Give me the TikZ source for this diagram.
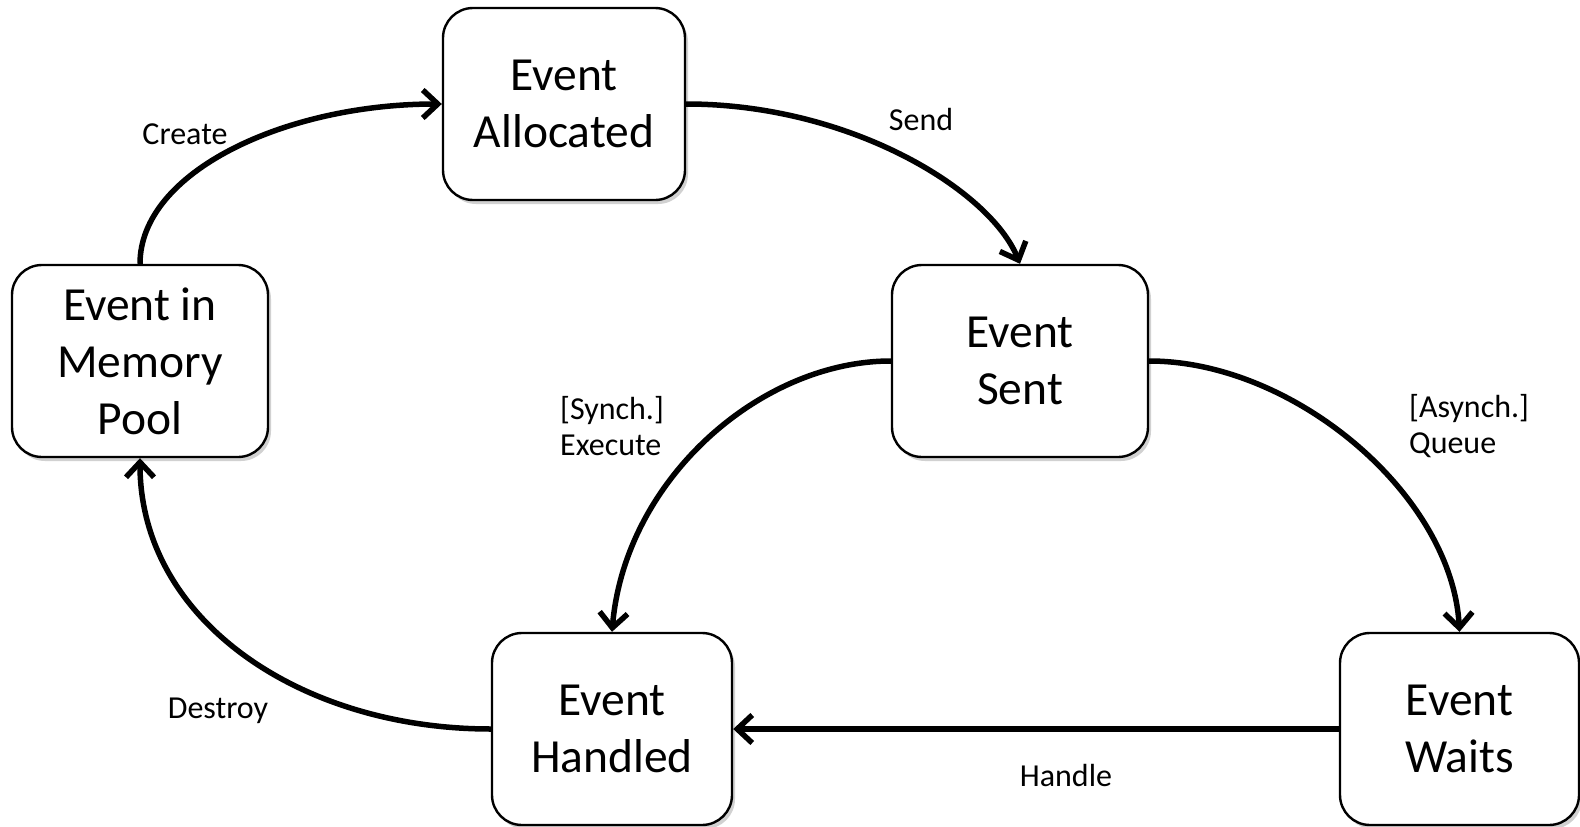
\documentclass[tikz,border=0pt]{standalone}
\usepackage{fontspec}
\setmainfont{Carlito}
\usetikzlibrary{arrows.meta,shadows}
\begin{document}
\begin{tikzpicture}[x=1pt,y=-1pt,
  state/.style={draw,line width=2.4pt,rounded corners=30pt,fill=white,
    minimum height=192pt,align=center,inner sep=0pt,
    font=\fontsize{47.5}{57}\selectfont,
    drop shadow={shadow xshift=3pt,shadow yshift=-4pt,opacity=0.18,fill=black}},
  trans/.style={line width=5.5pt,-{Straight Barb[length=15pt,width=28pt,line width=5.5pt]}},
  lbl/.style={inner sep=0pt,font=\fontsize{32}{36.5}\selectfont}]
\useasboundingbox (0,0) rectangle (1580,827);

% states
\node[state,minimum width=242pt] (alloc)   at (564,104)    {Event\\Allocated};
\node[state,minimum width=256pt] (pool)    at (140,361)    {Event in\\Memory\\Pool};
\node[state,minimum width=256pt] (sent)    at (1020,361)   {Event\\Sent};
\node[state,minimum width=240pt] (handled) at (612,729)    {Event\\Handled};
\node[state,minimum width=239pt] (waits)   at (1459.5,729) {Event\\Waits};

% transitions
\draw[trans] (pool.north) .. controls (140,172) and (285,104) .. (alloc.west);
\draw[trans] (alloc.east) .. controls (850,104) and (990,190) .. (sent.north);
\draw[trans] (sent.west) .. controls (760,361) and (625,480) .. (handled.north);
\draw[trans] (sent.east) .. controls (1294,361) and (1452,495) .. (waits.north);
\draw[trans] (waits.west) -- (handled.east);
\draw[trans] (handled.west) .. controls (300,729) and (140,620) .. (pool.south);

% labels
\node[lbl] (lcreate)  at (185,134)  {Create};
\node[lbl] (lsend)    at (921,119)  {Send};
\node[lbl,anchor=west,align=left] (lsynch)  at (560,426)  {[Synch.]\\Execute};
\node[lbl,anchor=west,align=left] (lasynch) at (1409,426) {[Asynch.]\\Queue};
\node[lbl] (lhandle)  at (1066,775) {Handle};
\node[lbl] (ldestroy) at (218,711)  {Destroy};
\end{tikzpicture}
\end{document}
